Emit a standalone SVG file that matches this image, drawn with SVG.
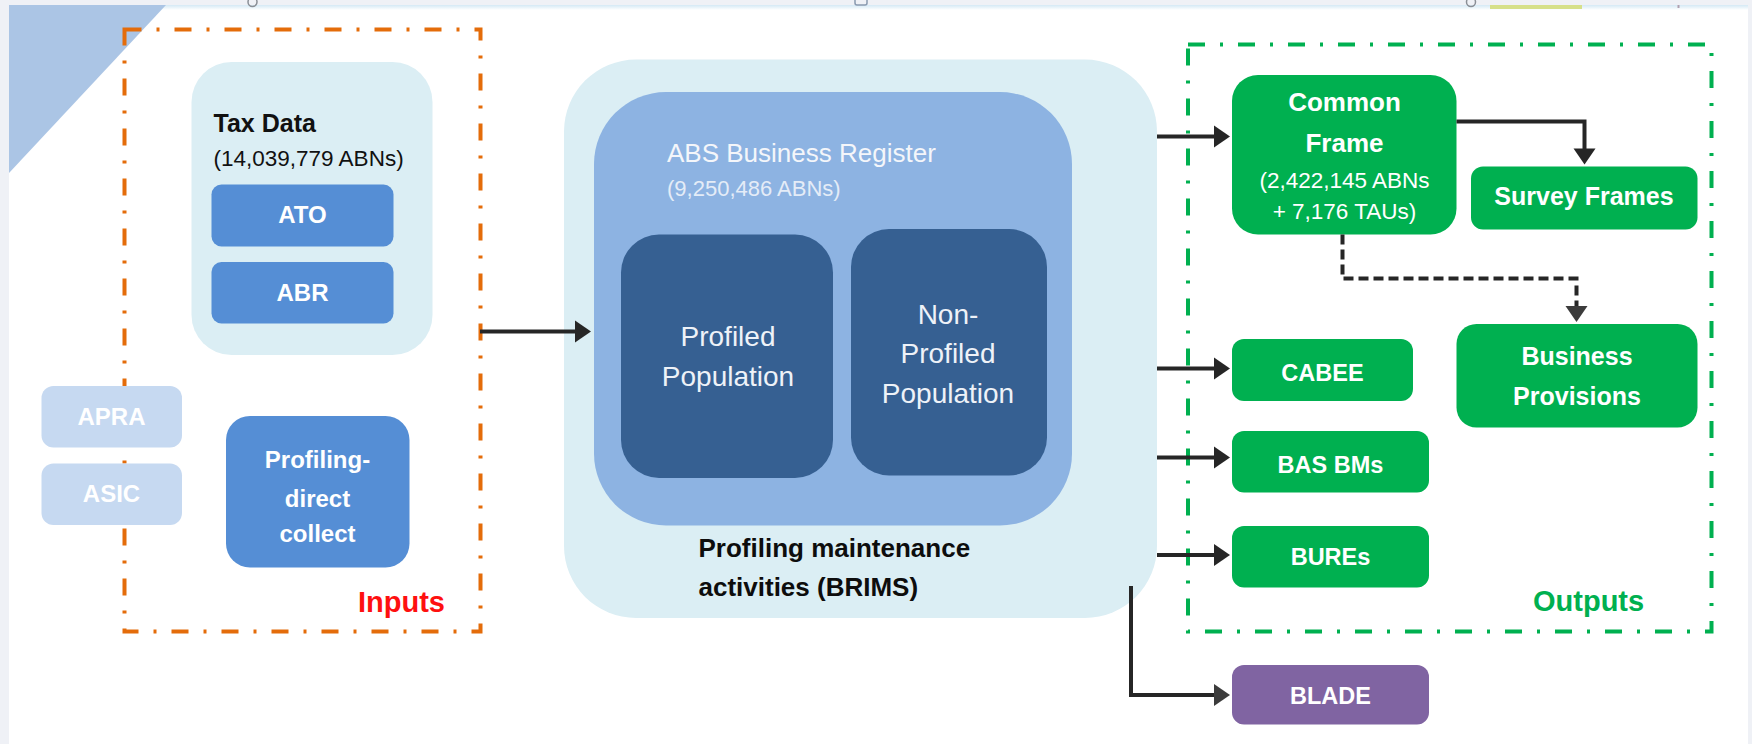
<svg xmlns="http://www.w3.org/2000/svg" width="1752" height="744" viewBox="0 0 1752 744">
<style>
text{font-family:"Liberation Sans",Arial,sans-serif}
.w{fill:#ffffff;font-weight:bold;text-anchor:middle}
.mid{fill:#558ed5}
.grn{fill:#00b050}
.con{fill:none;stroke:#262626;stroke-width:4}
</style>
<defs>
<marker id="ah" markerUnits="userSpaceOnUse" markerWidth="16" markerHeight="22" refX="4" refY="11" orient="auto" overflow="visible">
<path d="M0,0 L16,11 L0,22 Z" fill="#262626"/>
</marker>
<marker id="ah2" markerUnits="userSpaceOnUse" markerWidth="16" markerHeight="22" refX="4" refY="11" orient="auto" overflow="visible">
<path d="M0,0 L16,11 L0,22 Z" fill="#3c3c3c"/>
</marker>
<linearGradient id="topline" x1="0" y1="0" x2="0" y2="1">
<stop offset="0" stop-color="#d4e9f5"/>
<stop offset="1" stop-color="#ffffff"/>
</linearGradient>
</defs>
<g id="background">
<rect x="0" y="0" width="1752" height="744" fill="#ffffff"/>
<rect x="9" y="5" width="1739" height="5" fill="url(#topline)"/>
<rect x="0" y="0" width="9" height="744" fill="#eff1f6"/>
<rect x="1748" y="0" width="4" height="744" fill="#eff1f6"/>
<rect x="0" y="0" width="1752" height="5" fill="#eff1f6"/>
<polygon points="9,5 166,5 9,173" fill="#abc5e5"/>
<circle cx="252.5" cy="2" r="4.5" fill="none" stroke="#8a8f96" stroke-width="1.5"/>
<rect x="855" y="-4" width="12" height="9" rx="2" fill="none" stroke="#8a9ab0" stroke-width="1.5"/>
<circle cx="1471" cy="2" r="4.5" fill="none" stroke="#8a8f96" stroke-width="1.5"/>
<rect x="1490" y="5" width="92" height="4" fill="#d6e08a"/>
<rect x="1677.5" y="5" width="2" height="3" fill="#b0a0b0"/>
</g>
<g id="inputs-frame">
<rect x="124.5" y="29.5" width="356" height="602" fill="none" stroke="#e46c0a" stroke-width="4" stroke-dasharray="17 15 3 15"/>
<text x="358" y="611.5" font-size="29" font-weight="bold" fill="#fe1010">Inputs</text>
</g>
<g id="outputs-frame">
<rect x="1188" y="44.5" width="523.5" height="587" fill="none" stroke="#00b050" stroke-width="4" stroke-dasharray="17 15 3 15"/>
<text x="1533" y="611" font-size="29" font-weight="bold" fill="#00b050">Outputs</text>
</g>
<g id="tax-data">
<rect x="191.5" y="62" width="241" height="293" rx="40" fill="#dbeef4"/>
<text x="213.5" y="132" font-size="25" font-weight="bold" fill="#111111">Tax Data</text>
<text x="213.5" y="166" font-size="22.5" fill="#111111">(14,039,779 ABNs)</text>
</g>
<g id="ato">
<rect x="211.5" y="184.5" width="182" height="62" rx="10" class="mid"/>
<text x="302.5" y="223" font-size="24" class="w">ATO</text>
</g>
<g id="abr">
<rect x="211.5" y="262" width="182" height="61.5" rx="10" class="mid"/>
<text x="302.5" y="300.5" font-size="24" class="w">ABR</text>
</g>
<g id="apra">
<rect x="41.5" y="386" width="140.5" height="61.5" rx="12" fill="#c6d9f1"/>
<text x="111.5" y="425" font-size="24" class="w">APRA</text>
</g>
<g id="asic">
<rect x="41.5" y="463.5" width="140.5" height="61.5" rx="12" fill="#c6d9f1"/>
<text x="111.5" y="502" font-size="24" class="w">ASIC</text>
</g>
<g id="profiling-direct-collect">
<rect x="226" y="416" width="183.5" height="151.5" rx="24" class="mid"/>
<text x="317.5" y="468" font-size="24" class="w">Profiling-</text>
<text x="317.5" y="506.5" font-size="24" class="w">direct</text>
<text x="317.5" y="541.5" font-size="24" class="w">collect</text>
</g>
<g id="brims">
<rect x="564" y="59.5" width="593" height="558.5" rx="72" fill="#dbeef4"/>
<text x="698.5" y="557" font-size="26" font-weight="bold" fill="#0d0d0d">Profiling maintenance</text>
<text x="698.5" y="595.5" font-size="26" font-weight="bold" fill="#0d0d0d">activities (BRIMS)</text>
</g>
<g id="abs-business-register">
<rect x="594" y="92" width="478" height="433.5" rx="72" fill="#8db3e2"/>
<text x="667" y="162" font-size="26" fill="#f4f6fa">ABS Business Register</text>
<text x="667" y="195.5" font-size="22" fill="#e4ecf7">(9,250,486 ABNs)</text>
</g>
<g id="profiled-population">
<rect x="621" y="234.5" width="212" height="243.5" rx="38" fill="#366092"/>
<text x="728" y="345.5" font-size="28" fill="#eef2f8" text-anchor="middle">Profiled</text>
<text x="728" y="386" font-size="28" fill="#eef2f8" text-anchor="middle">Population</text>
</g>
<g id="non-profiled-population">
<rect x="851" y="229" width="196" height="246.5" rx="38" fill="#366092"/>
<text x="948" y="323.5" font-size="28" fill="#eef2f8" text-anchor="middle">Non-</text>
<text x="948" y="363" font-size="28" fill="#eef2f8" text-anchor="middle">Profiled</text>
<text x="948" y="403" font-size="28" fill="#eef2f8" text-anchor="middle">Population</text>
</g>
<g id="common-frame">
<rect x="1232" y="75" width="224.5" height="159.5" rx="26" class="grn"/>
<text x="1344.5" y="111" font-size="26" class="w">Common</text>
<text x="1344.5" y="151.5" font-size="26" class="w">Frame</text>
<text x="1344.5" y="187.5" font-size="22.5" fill="#ffffff" text-anchor="middle">(2,422,145 ABNs</text>
<text x="1344.5" y="218.5" font-size="22.5" fill="#ffffff" text-anchor="middle">+ 7,176 TAUs)</text>
</g>
<g id="survey-frames">
<rect x="1471" y="166.5" width="226.5" height="63" rx="12" class="grn"/>
<text x="1584" y="205" font-size="25" class="w">Survey Frames</text>
</g>
<g id="business-provisions">
<rect x="1456.5" y="324" width="241" height="103.5" rx="20" class="grn"/>
<text x="1577" y="365" font-size="25" class="w">Business</text>
<text x="1577" y="405" font-size="25" class="w">Provisions</text>
</g>
<g id="cabee">
<rect x="1232" y="339" width="181" height="62" rx="12" class="grn"/>
<text x="1322.5" y="380.5" font-size="23.5" class="w">CABEE</text>
</g>
<g id="bas-bms">
<rect x="1232" y="431" width="197" height="61.5" rx="12" class="grn"/>
<text x="1330.5" y="472.5" font-size="23.5" class="w">BAS BMs</text>
</g>
<g id="bures">
<rect x="1232" y="526" width="197" height="61.5" rx="12" class="grn"/>
<text x="1330.5" y="565" font-size="23.5" class="w">BUREs</text>
</g>
<g id="blade">
<rect x="1232" y="665" width="197" height="59.5" rx="12" fill="#8064a2"/>
<text x="1330.5" y="703.5" font-size="23.5" class="w">BLADE</text>
</g>
<g id="connectors">
<path class="con" d="M480,331.5 H579" marker-end="url(#ah)"/>
<path class="con" d="M1157,136.5 H1218" marker-end="url(#ah)"/>
<path class="con" d="M1456.5,121.5 H1584.5 V152.5" marker-end="url(#ah)"/>
<path class="con" d="M1342.5,234.5 V278.5 H1576.5 V310" stroke="#3a3a3a" stroke-dasharray="10 5" marker-end="url(#ah2)"/>
<path class="con" d="M1157,368.5 H1218" marker-end="url(#ah)"/>
<path class="con" d="M1157,457.5 H1218" marker-end="url(#ah)"/>
<path class="con" d="M1157,555 H1218" marker-end="url(#ah)"/>
<path class="con" d="M1131,586 V695 H1218" stroke="#3c3c3c" marker-end="url(#ah2)"/>
</g>
</svg>
